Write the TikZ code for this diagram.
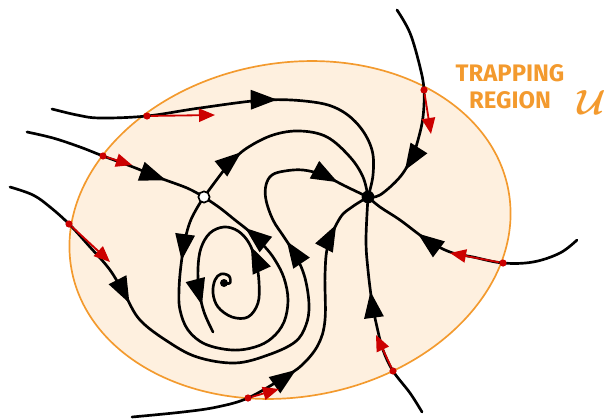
\documentclass[tikz,border=0pt]{standalone}
\usepackage{fontspec}
\usepackage{amsmath}
\usetikzlibrary{arrows.meta,decorations.markings,positioning}
\newfontfamily\regionfont{Fira Sans}
\definecolor{regionorange}{HTML}{F39A2E}
\definecolor{regionfill}{HTML}{FEF0DF}
\definecolor{vecred}{HTML}{CC0000}
\tikzset{
  region/.style={draw=regionorange,fill=regionfill,line width=1.2pt},
  orbit/.style={draw=black,line width=1.9pt,line cap=round,line join=round},
  flowat/.style={postaction={decorate,decoration={markings,mark=at position #1 with {\arrow{Triangle[length=6.6mm,width=4.8mm]}}}}},
  vec/.style={draw=vecred,line width=1.3pt,-{Triangle[length=4mm,width=3.3mm]}},
  crossing/.style={circle,fill=vecred,inner sep=0pt,minimum size=1.8mm},
  saddlept/.style={circle,draw=black,fill=white,line width=1.2pt,inner sep=0pt,minimum size=2.8mm},
  sinkpt/.style={circle,fill=black,inner sep=0pt,minimum size=3.2mm},
  sourcept/.style={circle,fill=black,inner sep=0pt,minimum size=2mm},
  regionlabel/.style={text=regionorange,font=\regionfont\bfseries\fontsize{17}{19}\selectfont,align=center,inner sep=0pt}
}

\begin{document}
\begin{tikzpicture}[x=0.025cm,y=-0.025cm]
  \useasboundingbox (0,0) rectangle (604,420);
  \draw[region,rotate around={10:(290,230)}] (290,230) ellipse [x radius=222,y radius=167];
  \coordinate (S) at (204,197);
  \coordinate (K) at (368,197);
  \coordinate (F) at (224,283);
  \draw[orbit,flowat=0.58] plot[smooth,tension=0.6] coordinates {(52,109) (77,115) (100,118) (147,116) (200,108) (265,100) (313,102) (340,110) (360,127) (372,150) (373,175) (K)};
  \draw[orbit,flowat=0.78] plot[smooth,tension=0.6] coordinates {(27,132) (53,138) (80,147) (103,156) (133,167) (160,178) (187,188) (S)};
  \draw[orbit,flowat=0.264,flowat=0.728,flowat=0.948] plot[smooth,tension=0.6] coordinates {(10,187) (33,195) (50,207) (69,224) (90,247) (110,270) (125,295) (140,320) (167,341) (197,357) (235,363) (268,355) (295,342) (306,325) (309,305) (305,278) (296,256) (284,237) (273,220) (266,200) (266,185) (272,175) (285,171) (303,170) (323,175) (345,186) (K)};
  \draw[orbit,flowat=0.78] plot[smooth,tension=0.6] coordinates {(397,10) (410,33) (420,67) (424,90) (423,117) (418,140) (412,157) (400,177) (380,195) (K)};
  \draw[orbit,flowat=0.735] plot[smooth,tension=0.6] coordinates {(577,240) (560,253) (533,262) (503,263) (473,257) (450,252) (427,240) (400,220) (380,207) (K)};
  \draw[orbit,flowat=0.585] plot[smooth,tension=0.6] coordinates {(422,412) (410,393) (393,371) (383,350) (377,327) (372,302) (368,270) (366,240) (K)};
  \draw[orbit,flowat=0.465,flowat=0.885] plot[smooth,tension=0.6] coordinates {(132,417) (183,412) (217,407) (248,398) (283,378) (302,365) (318,345) (325,320) (325,275) (328,245) (340,218) (352,207) (K)};
  \draw[orbit,flowat=0.26] plot[smooth,tension=0.6] coordinates {(S) (218,178) (230,163) (247,148) (273,135) (300,131) (327,137) (350,157) (363,177) (K)};
  \draw[orbit,flowat=0.165,flowat=0.875] plot[smooth,tension=0.6] coordinates {(S) (197,208) (190,222) (185,240) (181,265) (179,290) (180,310) (188,330) (205,344) (232,350) (255,347) (272,338) (284,322) (288,300) (284,278) (275,260) (265,247) (250,232) (235,220) (220,208) (S)};
  \draw[orbit,flowat=0.52,flowat=0.91] plot[smooth,tension=0.6] coordinates {(F) (230,283) (229,276) (221,274) (215,280) (213,293) (218,307) (232,317) (248,317) (258,303) (259,282) (256,262) (249,243) (238,231) (224,227) (210,233) (201,248) (198,268) (199,290) (204,312) (213,332)};
  \node[crossing] (cross1) at (147,116) {};
  \node[crossing] (cross2) at (103,156) {};
  \node[crossing] (cross3) at (69,224) {};
  \node[crossing] (cross4) at (424,90) {};
  \node[crossing] (cross5) at (503,263) {};
  \node[crossing] (cross6) at (393,371) {};
  \node[crossing] (cross7) at (248,398) {};
  \coordinate (v1) at (215,115);
  \coordinate (v2) at (132,165);
  \coordinate (v3) at (110,262);
  \coordinate (v4) at (431,134);
  \coordinate (v5) at (450,253);
  \coordinate (v6) at (376,335);
  \coordinate (v7) at (279,389);
  \draw[vec] (cross1) -- (v1);
  \draw[vec] (cross2) -- (v2);
  \draw[vec] (cross3) -- (v3);
  \draw[vec] (cross4) -- (v4);
  \draw[vec] (cross5) -- (v5);
  \draw[vec] (cross6) -- (v6);
  \draw[vec] (cross7) -- (v7);
  \node[saddlept] (saddle) at (S) {};
  \node[sinkpt] (sink) at (K) {};
  \node[sourcept] (focus) at (F) {};
  \node[regionlabel] (trapping) at (510,87) {TRAPPING\\REGION};
  \node[regionlabel,font=\fontsize{31}{31}\selectfont] (usym) at (592,102) {$\boldsymbol{\mathcal{U}}$};
\end{tikzpicture}
\end{document}
